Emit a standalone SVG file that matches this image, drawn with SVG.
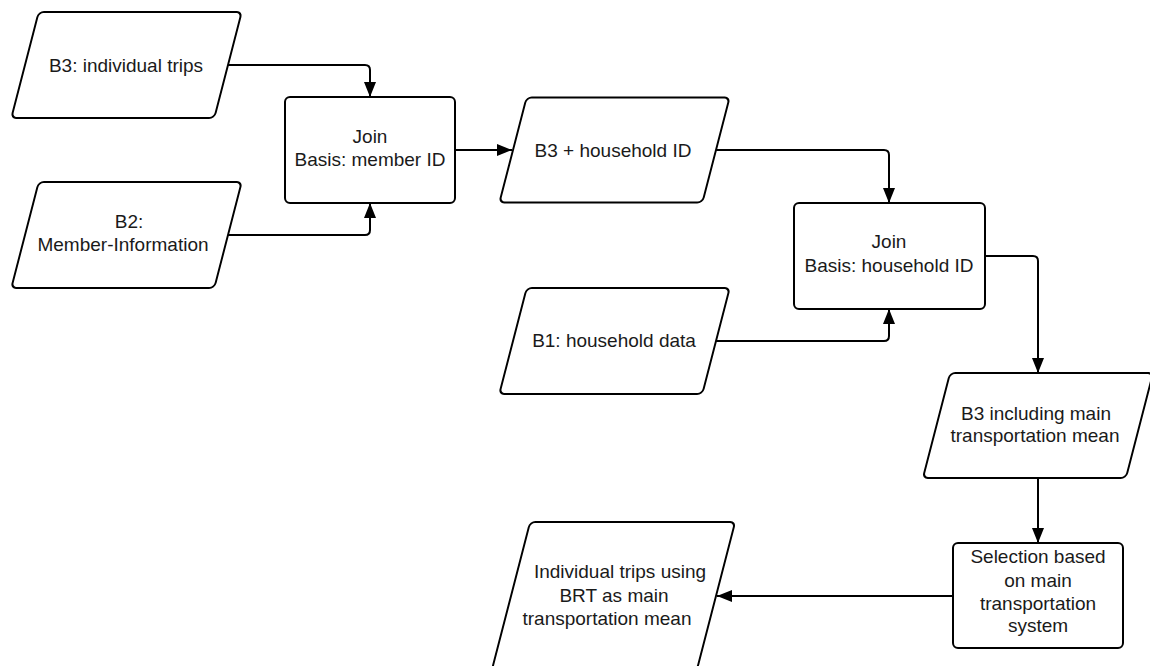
<svg xmlns="http://www.w3.org/2000/svg" width="1150" height="666" viewBox="0 0 1150 666">
  <style>
    .shape { fill: #ffffff; stroke: #000000; stroke-width: 2; }
    .edge { fill: none; stroke: #000000; stroke-width: 2; }
    text { font-family: "Liberation Sans", Arial, sans-serif; font-size: 19px; fill: #1a1a1a; text-anchor: middle; }
  </style>
  <defs>
    <marker id="arrow" markerUnits="userSpaceOnUse" markerWidth="16" markerHeight="12" refX="15" refY="6" orient="auto">
      <path d="M0,0 L15,6 L0,12 Z" fill="#000000"/>
    </marker>
  </defs>
  <rect width="1150" height="666" fill="#ffffff"/>

  <!-- connectors -->
  <g id="connectors">
    <path class="edge" d="M228,65 H365 Q370,65 370,70 V97" marker-end="url(#arrow)"/>
    <path class="edge" d="M228,235 H365 Q370,235 370,230 V203" marker-end="url(#arrow)"/>
    <path class="edge" d="M455,150 H512" marker-end="url(#arrow)"/>
    <path class="edge" d="M716,150 H884 Q889,150 889,155 V203" marker-end="url(#arrow)"/>
    <path class="edge" d="M716,341 H884 Q889,341 889,336 V309" marker-end="url(#arrow)"/>
    <path class="edge" d="M985,256 H1033 Q1038,256 1038,261 V373" marker-end="url(#arrow)"/>
    <path class="edge" d="M1038,478 V543" marker-end="url(#arrow)"/>
    <path class="edge" d="M953,596 H717" marker-end="url(#arrow)"/>
  </g>

  <!-- data inputs / outputs (parallelograms) -->
  <g id="b3-trips">
    <rect class="shape" x="-101.5" y="-53" width="203" height="106" rx="5" transform="translate(126.5,65) skewX(-14.5)"/>
    <text x="126" y="72">B3: individual trips</text>
  </g>
  <g id="b2-members">
    <rect class="shape" x="-101.5" y="-53" width="203" height="106" rx="5" transform="translate(126.5,235) skewX(-14.5)"/>
    <text x="129" y="228">B2:</text>
    <text x="123" y="251">Member-Information</text>
  </g>
  <g id="join-member">
    <rect class="shape" x="285" y="97" width="170" height="106" rx="5"/>
    <text x="370" y="143">Join</text>
    <text x="370" y="166">Basis: member ID</text>
  </g>
  <g id="b3-household">
    <rect class="shape" x="-101.5" y="-52.5" width="203" height="105" rx="5" transform="translate(614.5,150) skewX(-14.5)"/>
    <text x="613" y="157">B3 + household ID</text>
  </g>
  <g id="b1-household">
    <rect class="shape" x="-101.5" y="-53" width="203" height="106" rx="5" transform="translate(614.5,341) skewX(-14.5)"/>
    <text x="614" y="347">B1: household data</text>
  </g>
  <g id="join-household">
    <rect class="shape" x="794" y="203" width="191" height="106" rx="5"/>
    <text x="889" y="248">Join</text>
    <text x="889" y="272">Basis: household ID</text>
  </g>
  <g id="b3-main-mean">
    <rect class="shape" x="-101.5" y="-52.5" width="203" height="105" rx="5" transform="translate(1038,425.5) skewX(-14.5)"/>
    <text x="1036" y="420">B3 including main</text>
    <text x="1035" y="442">transportation mean</text>
  </g>
  <g id="selection">
    <rect class="shape" x="953" y="543" width="170" height="105" rx="5"/>
    <text x="1038" y="563">Selection based</text>
    <text x="1038" y="587">on main</text>
    <text x="1038" y="610">transportation</text>
    <text x="1038" y="632">system</text>
  </g>
  <g id="brt-trips">
    <rect class="shape" x="-102.5" y="-74" width="205" height="148" rx="5" transform="translate(613.5,596) skewX(-14.5)"/>
    <text x="620" y="578">Individual trips using</text>
    <text x="614" y="602">BRT as main</text>
    <text x="607" y="625">transportation mean</text>
  </g>
</svg>
